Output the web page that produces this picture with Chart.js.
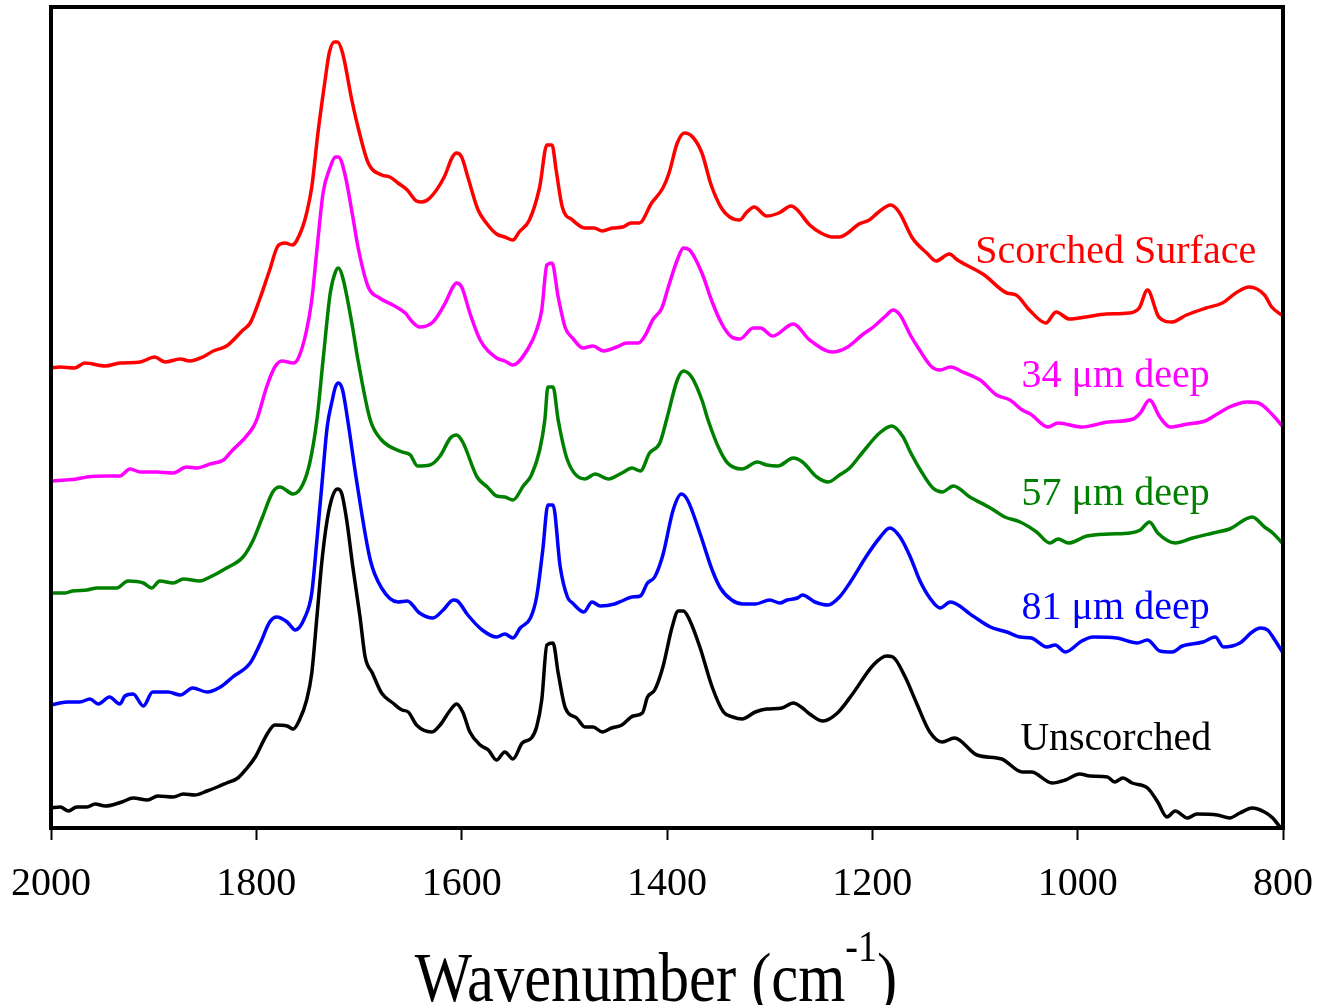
<!DOCTYPE html>
<html>
<head>
<meta charset="utf-8">
<title>IR spectra vs depth</title>
<script src="https://cdn.jsdelivr.net/npm/chart.js@4.4.1/dist/chart.umd.min.js"></script>
<style>
  html, body { margin: 0; padding: 0; background: #fff; }
  #wrap { width: 1320px; height: 1005px; }
</style>
</head>
<body>
<div id="wrap"><canvas id="irChart" width="1320" height="1005"></canvas></div>
<script>
// ====== data (wavenumber in cm-1, offset absorbance in arbitrary units) ======
const xTicks = [2000, 1800, 1600, 1400, 1200, 1000, 800];
const seriesNames = ["Scorched Surface", "34 μm deep", "57 μm deep", "81 μm deep", "Unscorched"];
const seriesColors = ["#ff0000", "#ff00ff", "#008000", "#0000ff", "#000000"];

const scorchedWn = [2000,1991,1977,1967,1947,1933,1913,1899,1889,1874,1865,1852,1842,1829,1813,1806,1797,1787,1779,1772,1765,1756,1751,1746,1740,1733,1729,1724,1721,1716,1707,1701,1691,1678,1670,1662,1653,1644,1639,1631,1617,1609,1605,1600,1594,1584,1576,1566,1558,1550,1544,1534,1524,1517,1512,1508,1502,1492,1480,1471,1463,1453,1443,1435,1427,1415,1404,1398,1390,1383,1375,1366,1357,1347,1339,1329,1323,1315,1303,1291,1279,1273,1261,1250,1239,1232,1224,1213,1203,1195,1182,1174,1161,1147,1138,1125,1117,1091,1069,1060,1047,1031,1021,1008,992,972,950,940,932,921,908,894,875,859,846,833,818,811,800];
const scorchedAbs = [460,461,460,465,462,465,466,471,466,469,467,471,477,482,498,505,528,558,582,585,583,598,615,641,695,748,775,786,786,775,728,701,665,653,651,645,638,627,626,630,651,671,675,671,651,618,605,594,591,588,596,608,641,683,683,658,621,608,600,600,597,600,601,605,605,625,640,655,685,695,691,675,643,620,611,608,615,621,612,615,622,618,603,595,591,591,595,604,608,615,623,616,590,575,567,574,568,553,535,533,518,505,516,509,511,514,515,520,538,511,506,513,520,525,535,541,533,521,512];

const deep34Wn = [2000,1986,1975,1965,1945,1933,1923,1913,1897,1881,1868,1858,1845,1832,1823,1813,1803,1799,1790,1782,1775,1764,1759,1751,1746,1741,1735,1728,1723,1720,1714,1706,1701,1691,1680,1667,1655,1648,1641,1628,1616,1608,1605,1600,1592,1582,1566,1558,1550,1535,1527,1522,1517,1512,1506,1499,1492,1482,1472,1462,1449,1439,1428,1421,1414,1405,1399,1390,1384,1378,1366,1356,1346,1337,1329,1316,1309,1297,1277,1261,1239,1224,1210,1199,1186,1180,1173,1163,1154,1142,1134,1124,1112,1095,1079,1066,1054,1046,1029,1019,996,970,946,939,930,920,910,893,876,864,852,835,824,810,800];
const deep34Abs = [347,348,349,351,352,352,359,356,356,355,361,360,364,368,378,388,401,410,441,461,467,465,470,498,528,578,635,661,671,671,655,611,581,541,530,523,515,506,501,506,525,542,545,541,515,488,470,467,463,480,498,518,563,565,531,500,490,480,482,477,481,485,485,493,508,520,540,568,580,578,555,526,503,491,489,500,500,492,504,488,476,481,493,501,513,518,513,493,478,461,458,461,456,448,433,428,418,414,401,405,401,406,409,415,428,411,401,404,407,414,421,426,425,413,401];

const deep57Wn = [2000,1986,1979,1965,1955,1936,1925,1910,1902,1894,1881,1871,1855,1845,1829,1813,1803,1794,1784,1777,1764,1755,1748,1741,1735,1728,1723,1720,1716,1707,1701,1689,1678,1658,1650,1643,1631,1621,1611,1605,1599,1585,1575,1566,1558,1550,1540,1532,1524,1519,1516,1511,1506,1497,1480,1470,1457,1444,1434,1426,1417,1407,1400,1390,1384,1376,1366,1360,1350,1341,1327,1312,1303,1292,1277,1268,1254,1243,1232,1222,1210,1193,1181,1170,1163,1152,1141,1132,1121,1105,1085,1071,1056,1040,1027,1019,1009,991,969,949,939,930,922,905,888,868,852,830,818,810,800];
const deep57Abs = [235,235,237,238,240,240,247,245,240,247,245,249,247,251,260,271,288,311,336,341,334,343,365,408,468,535,556,560,551,505,468,408,388,376,373,362,363,372,390,393,386,351,341,332,331,328,342,353,378,408,441,441,408,368,349,354,349,355,360,357,375,385,410,448,457,451,428,408,381,365,359,366,363,362,370,366,351,346,353,360,375,395,402,391,376,356,340,336,342,331,320,311,306,296,285,289,285,292,294,295,298,306,295,285,290,295,299,311,301,295,284];

const deep81Wn = [2000,1984,1972,1962,1954,1943,1933,1928,1920,1910,1901,1886,1874,1862,1848,1835,1823,1806,1796,1787,1780,1770,1762,1753,1746,1741,1736,1731,1726,1723,1720,1716,1711,1702,1689,1678,1662,1653,1641,1628,1618,1608,1604,1594,1580,1566,1558,1550,1543,1533,1527,1521,1516,1511,1504,1497,1492,1481,1473,1465,1451,1444,1434,1426,1419,1412,1404,1394,1386,1380,1368,1356,1348,1337,1326,1314,1300,1290,1283,1273,1268,1256,1243,1232,1222,1205,1193,1183,1173,1163,1154,1144,1134,1124,1102,1085,1069,1056,1045,1030,1022,1012,996,985,962,942,932,920,908,898,878,866,858,842,830,822,815,808,800];
const deep81Abs = [123,126,126,129,124,131,124,132,134,122,136,136,133,140,136,141,151,165,185,206,211,206,198,210,235,288,345,401,428,441,445,438,408,345,268,240,226,227,215,210,218,228,227,213,198,191,194,190,200,210,231,278,323,323,261,231,225,216,226,222,224,227,231,232,245,251,273,318,334,328,295,258,240,228,224,224,228,225,228,230,233,226,223,231,245,273,290,300,291,271,248,230,220,226,212,201,196,191,190,181,183,176,187,191,190,185,188,177,176,182,186,191,181,185,196,200,198,188,175];

const unscorchedWn = [2000,1991,1983,1975,1965,1957,1947,1931,1920,1906,1896,1881,1871,1860,1848,1838,1829,1818,1809,1801,1790,1782,1770,1764,1758,1751,1746,1741,1736,1731,1726,1721,1717,1712,1706,1699,1694,1687,1678,1667,1658,1652,1644,1629,1621,1611,1605,1599,1592,1582,1574,1566,1558,1550,1541,1532,1527,1522,1517,1511,1506,1499,1488,1480,1472,1463,1454,1444,1433,1424,1419,1412,1404,1395,1389,1384,1378,1368,1356,1345,1336,1327,1314,1303,1288,1277,1268,1261,1248,1234,1220,1199,1186,1180,1168,1157,1144,1132,1120,1098,1074,1054,1045,1025,1012,998,988,971,964,956,947,932,922,913,905,893,884,864,852,842,830,818,810,803];
const unscorchedAbs = [20,21,17,21,21,24,22,26,30,28,32,31,34,33,37,41,45,50,60,71,93,103,102,99,108,128,155,211,268,308,331,339,335,308,261,211,171,155,135,125,118,116,103,96,103,118,124,116,96,83,78,68,76,69,85,90,101,128,183,185,155,120,110,101,101,96,100,103,112,115,131,138,161,201,217,217,208,181,141,116,111,109,116,119,120,125,120,114,107,115,133,163,172,171,151,125,96,86,90,73,69,56,56,45,48,54,52,51,46,50,45,40,26,11,17,10,14,13,10,15,20,16,10,1];

// ---- global look ----
const SERIF = "'Liberation Serif', 'Times New Roman', serif";
Chart.defaults.font.family = SERIF;
Chart.defaults.color = "#000";

const toPoints = (wn, abs) => wn.map((w, i) => ({ x: w, y: abs[i] }));
const seriesData = [
  toPoints(scorchedWn, scorchedAbs),
  toPoints(deep34Wn, deep34Abs),
  toPoints(deep57Wn, deep57Abs),
  toPoints(deep81Wn, deep81Abs),
  toPoints(unscorchedWn, unscorchedAbs),
];

// ---- plot frame (box around the chart area) ----
const framePlugin = {
  id: "frame",
  afterDatasetsDraw(chart) {
    const { ctx, chartArea: a } = chart;
    ctx.save();
    ctx.strokeStyle = "#000";
    ctx.lineWidth = 4;
    ctx.strokeRect(a.left, a.top, a.right - a.left, a.bottom - a.top);
    ctx.restore();
  },
};

// ---- series names, written next to each curve ----
const seriesLabelPlugin = {
  id: "seriesLabels",
  afterDraw(chart, args, opts) {
    const { ctx, scales } = chart;
    const x = scales.x.getPixelForValue(opts.atWn);
    ctx.save();
    ctx.font = `${opts.size}px ${SERIF}`;
    ctx.textAlign = "center";
    ctx.textBaseline = "alphabetic";
    seriesNames.forEach((name, i) => {
      ctx.fillStyle = seriesColors[i];
      ctx.fillText(name, x, scales.y.getPixelForValue(opts.atAbs[i]));
    });
    ctx.restore();
  },
};

// ---- x axis title with superscript ----
const axisTitlePlugin = {
  id: "axisTitle",
  afterDraw(chart) {
    const { ctx } = chart;
    const main = "Wavenumber (cm", sup = "-1", close = ")";
    const mainFont = `70px ${SERIF}`, supFont = `44px ${SERIF}`;
    ctx.save();
    ctx.fillStyle = "#000";
    ctx.textBaseline = "alphabetic";
    ctx.font = mainFont;
    const w1 = ctx.measureText(main).width, w3 = ctx.measureText(close).width;
    ctx.font = supFont;
    const w2 = ctx.measureText(sup).width;
    const total = w1 + w2 + w3;
    const cx = 656, baseY = 1001, squeeze = 0.865;
    ctx.translate(cx, baseY);
    ctx.scale(squeeze, 1);
    let x = -total / 2;
    ctx.textAlign = "left";
    ctx.font = mainFont;
    ctx.fillText(main, x, 0);
    x += w1;
    ctx.font = supFont;
    ctx.fillText(sup, x, -40);
    x += w2;
    ctx.font = mainFont;
    ctx.fillText(close, x, 0);
    ctx.restore();
  },
};

const ctx = document.getElementById("irChart").getContext("2d");
new Chart(ctx, {
  type: "line",
  data: {
    datasets: seriesData.map((pts, i) => ({
      label: seriesNames[i],
      data: pts,
      borderColor: seriesColors[i],
      backgroundColor: seriesColors[i],
      borderWidth: 3.5,
      pointRadius: 0,
      fill: false,
      cubicInterpolationMode: "monotone",
    })),
  },
  options: {
    responsive: false,
    animation: false,
    parsing: false,
    layout: { padding: { left: 51, right: 37, top: 7, bottom: 0 } },
    plugins: {
      legend: { display: false },
      tooltip: { enabled: false },
      seriesLabels: { atWn: 963, atAbs: [565, 441, 323, 209, 78], size: 40 },
    },
    scales: {
      x: {
        type: "linear",
        reverse: true,
        min: 800,
        max: 2000,
        afterBuildTicks: axis => { axis.ticks = xTicks.map(v => ({ value: v })); },
        afterFit: axis => {
          axis.height = 177;
          axis.paddingLeft = 0;
          axis.paddingRight = 0;
        },
        border: { display: false },
        grid: {
          drawOnChartArea: false,
          drawTicks: true,
          tickLength: 12,
          tickWidth: 2,
          tickColor: "#000",
        },
        ticks: {
          color: "#000",
          font: { size: 40 },
          padding: 20,
          maxRotation: 0,
          autoSkip: false,
          callback: v => String(v),
        },
      },
      y: { display: false, min: 0, max: 821 },
    },
  },
  plugins: [framePlugin, seriesLabelPlugin, axisTitlePlugin],
});
</script>
</body>
</html>
